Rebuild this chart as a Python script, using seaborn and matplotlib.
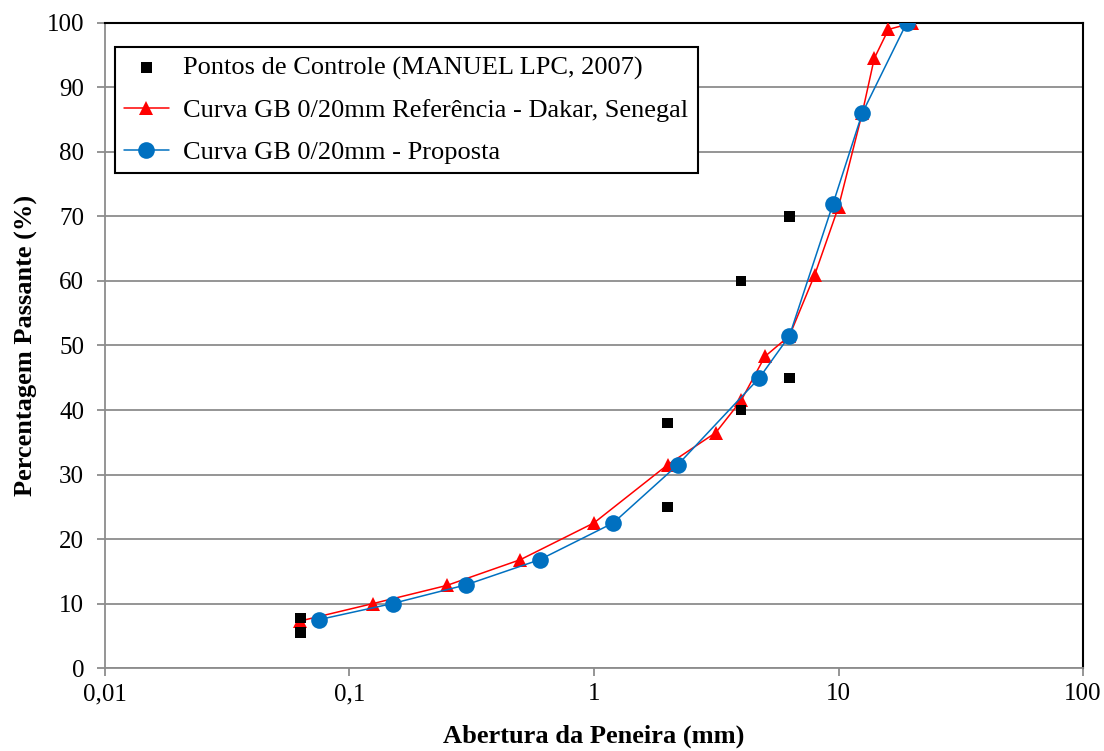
import numpy as np
import pandas as pd
import matplotlib
matplotlib.use('Agg')
import matplotlib.pyplot as plt
import seaborn as sns

# control points (MANUEL LPC, 2007)
ctrl_x = [0.063, 0.063, 2, 2, 4, 4, 6.3, 6.3]
ctrl_y = [7.7, 5.5, 38, 25, 60, 40, 70, 45]

# reference curve - Dakar, Senegal
ref_x = [0.063, 0.125, 0.25, 0.5, 1, 2, 3.15, 4, 5, 6.3, 8, 10, 12.5, 14, 16, 20]
ref_y = [7.3, 10, 12.8, 16.8, 22.5, 31.5, 36.5, 41.5, 48.3, 51.5, 61, 71.5, 86, 94.5, 99, 100]

# proposed curve
prop_x = [0.075, 0.15, 0.3, 0.6, 1.2, 2.2, 4.75, 6.3, 9.5, 12.5, 19]
prop_y = [7.5, 10, 12.9, 16.8, 22.5, 31.5, 45, 51.5, 72, 86, 100]

xticks = [0.01, 0.1, 1, 10, 100]
xtick_labels = ['0,01', '0,1', '1', '10', '100']
yticks = list(range(0, 101, 10))

lbl_ctrl = 'Pontos de Controle (MANUEL LPC, 2007)'
lbl_ref = 'Curva GB 0/20mm Referência - Dakar, Senegal'
lbl_prop = 'Curva GB 0/20mm - Proposta'

sns.set_style('white')
plt.rcParams['font.family'] = ['Liberation Serif', 'DejaVu Serif']
plt.rcParams['text.color'] = 'black'
plt.rcParams['axes.labelcolor'] = 'black'

fig = plt.figure(figsize=(11.04, 7.51), dpi=100)
ax = fig.add_axes([0.0951, 0.1105, 0.8859, 0.8589])

df_ref = pd.DataFrame({'x': ref_x, 'y': ref_y})
df_prop = pd.DataFrame({'x': prop_x, 'y': prop_y})
df_ctrl = pd.DataFrame({'x': ctrl_x, 'y': ctrl_y})

sns.lineplot(data=df_ref, x='x', y='y', sort=False, color='#FF0000', lw=1.1,
             marker='^', markersize=10, markeredgewidth=0, ax=ax, label=lbl_ref, zorder=3)
sns.lineplot(data=df_prop, x='x', y='y', sort=False, color='#0070C0', lw=1.1,
             marker='o', markersize=12, markeredgewidth=0, ax=ax, label=lbl_prop, zorder=4)
sns.scatterplot(data=df_ctrl, x='x', y='y', color='black', marker='s', s=55,
                edgecolor='none', ax=ax, label=lbl_ctrl, zorder=5)

ax.set_xscale('log')
ax.set_xlim(0.01, 100)
ax.set_ylim(0, 100)
ax.set_xticks(xticks)
ax.set_xticklabels(xtick_labels)
ax.xaxis.set_minor_locator(matplotlib.ticker.NullLocator())
ax.set_yticks(yticks)

ax.yaxis.grid(True, color='#8c8c8c', lw=1.3)
ax.xaxis.grid(False)
ax.set_axisbelow(True)

for s in ['left', 'bottom']:
    ax.spines[s].set_color('#8c8c8c')
    ax.spines[s].set_linewidth(1.3)
for s in ['top', 'right']:
    ax.spines[s].set_color('black')
    ax.spines[s].set_linewidth(1.5)

ax.tick_params(axis='both', direction='out', length=6, width=1.3, color='#8c8c8c',
               labelsize=18, labelcolor='black', bottom=True, left=True)
ax.tick_params(axis='x', pad=5)
ax.tick_params(axis='y', pad=9)

ax.set_xlabel('Abertura da Peneira (mm)', fontsize=19, fontweight='bold', labelpad=14)
ax.set_ylabel('Percentagem Passante (%)', fontsize=19, fontweight='bold', labelpad=6)

handles, labels = ax.get_legend_handles_labels()
order = [labels.index(lbl_ctrl), labels.index(lbl_ref), labels.index(lbl_prop)]
leg = ax.legend([handles[i] for i in order], [labels[i] for i in order],
                loc='upper left', bbox_to_anchor=(0.01, 0.963), fontsize=19,
                frameon=True, fancybox=False, edgecolor='black', framealpha=1,
                handlelength=1.7, handletextpad=0.55, borderpad=0.35, labelspacing=0.7,
                borderaxespad=0)
leg.get_frame().set_linewidth(1.5)

fig.savefig('out.png', dpi=100)
